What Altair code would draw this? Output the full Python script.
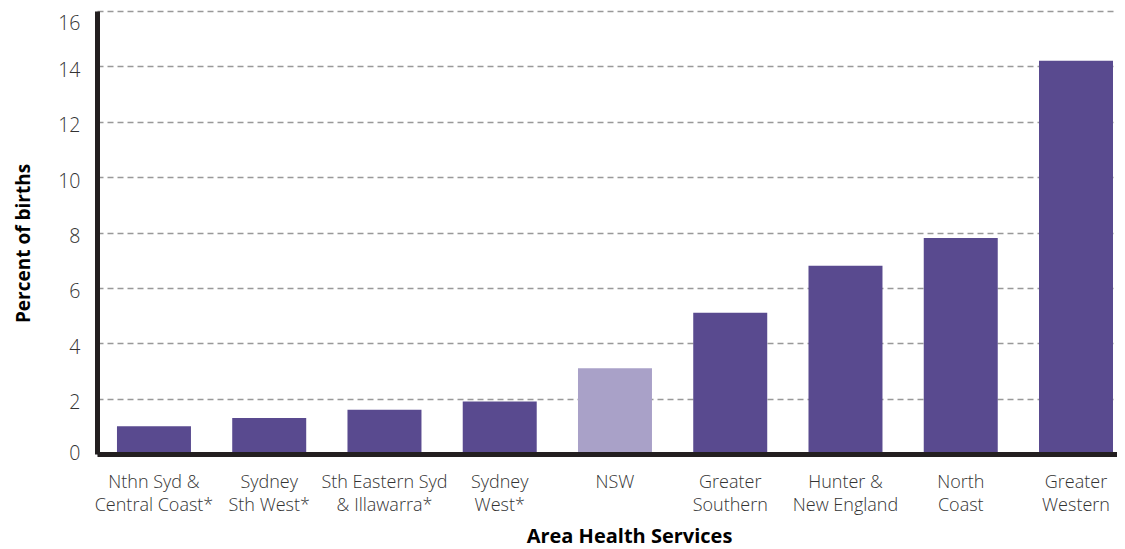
import altair as alt
import pandas as pd

categories = [
    "Nthn Syd &\nCentral Coast*",
    "Sydney\nSth West*",
    "Sth Eastern Syd\n& Illawarra*",
    "Sydney\nWest*",
    "NSW",
    "Greater\nSouthern",
    "Hunter &\nNew England",
    "North\nCoast",
    "Greater\nWestern",
]
values = [1.0, 1.3, 1.6, 1.9, 3.1, 5.1, 6.8, 7.8, 14.2]
groups = ["AHS", "AHS", "AHS", "AHS", "NSW", "AHS", "AHS", "AHS", "AHS"]
y_ticks = [0, 2, 4, 6, 8, 10, 12, 14, 16]

df = pd.DataFrame({"area": categories, "value": values, "group": groups})

FONT = "Open Sans"

chart = alt.Chart(df).mark_bar().encode(
    x=alt.X(
        "area:N",
        sort=categories,
        scale=alt.Scale(paddingInner=0.358, paddingOuter=0.104, align=0.833),
        axis=alt.Axis(
            title="Area Health Services",
            labelExpr="split(datum.label, '\\n')",
            labelAngle=0,
            ticks=False,
            tickSize=0,
            domainWidth=5,
            domainColor="#231f20",
            labelPadding=33,
            labelBaseline="alphabetic",
            labelLineHeight=23,
            labelFontSize=18,
            labelFont=FONT,
            labelColor="#333333",
            labelFontWeight=300,
            titleFont=FONT,
            titleFontSize=20,
            titleFontWeight="bold",
            titleColor="#000000",
            titleX=532,
            titleY=88.5,
            titleBaseline="alphabetic",
            titleAlign="center",
            zindex=1,
        ),
    ),
    y=alt.Y(
        "value:Q",
        scale=alt.Scale(domain=[0, 16], nice=False),
        axis=alt.Axis(
            values=y_ticks,
            title="Percent of births",
            grid=True,
            gridDash=[6, 4],
            gridColor="#999999",
            gridWidth=1.5,
            domainWidth=5,
            domainColor="#231f20",
            ticks=False,
            tickSize=0,
            labelPadding=17,
            labelOffset={
                "condition": [
                    {"test": "datum.value == 16", "value": 12},
                    {"test": "datum.value == 0", "value": -1},
                ],
                "value": 4,
            },
            labelFontSize=19.5,
            labelFont=FONT,
            labelColor="#333333",
            labelFontWeight=300,
            titleFont=FONT,
            titleFontSize=19,
            titleFontWeight="bold",
            titleColor="#000000",
            titleX=-68,
            titleY=232,
            titleAngle=270,
            titleBaseline="alphabetic",
            titleAlign="center",
        ),
    ),
    color=alt.Color(
        "group:N",
        scale=alt.Scale(domain=["AHS", "NSW"], range=["#594a8f", "#a9a1c8"]),
        legend=None,
    ),
).properties(
    width=1020,
    height=443,
    padding={"left": 89, "top": 3, "right": 0, "bottom": 100},
    autosize=alt.AutoSizeParams(type="none"),
).configure_view(stroke=None)

chart.save("out.html", embed_options={"renderer": "svg", "actions": False})
